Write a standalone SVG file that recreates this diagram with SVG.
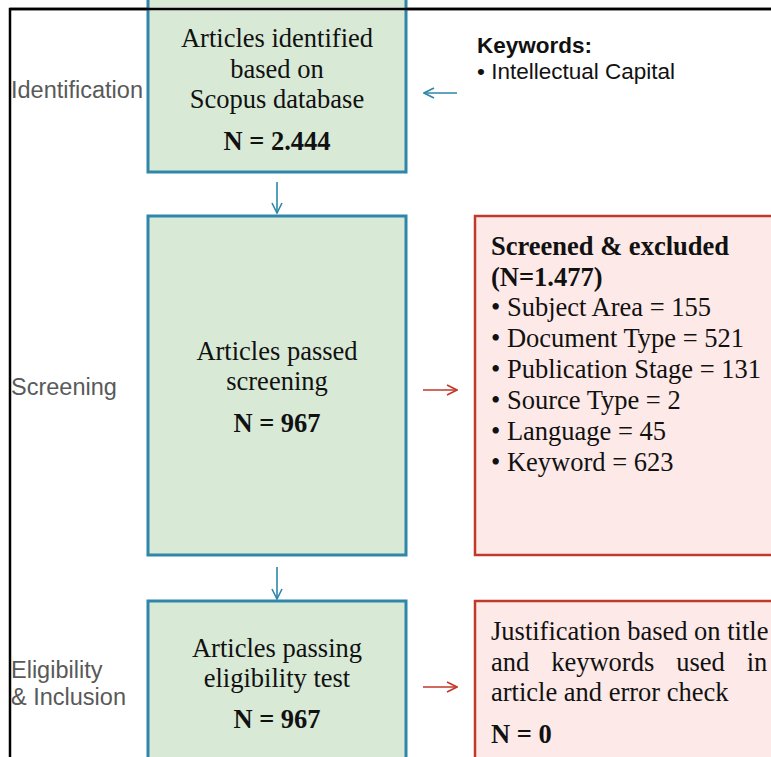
<svg xmlns="http://www.w3.org/2000/svg" width="771" height="757" viewBox="0 0 771 757">
<style>
.green{fill:#d8e9d6;stroke:#2e86ab;stroke-width:3}
.red{fill:#fde9e7;stroke:#c0392b;stroke-width:2.5}
.t{font-family:"Liberation Serif","Times New Roman",serif;font-size:26.5px;fill:#111}
.b{font-weight:bold}
.lbl{font-family:"Liberation Sans",Arial,sans-serif;font-size:23.5px;fill:#595959}
.kw{font-family:"Liberation Sans",Arial,sans-serif;font-size:22.5px;fill:#111}
.ab{fill:none;stroke:#2e86ab;stroke-width:1.6}
.ar{fill:none;stroke:#c0392b;stroke-width:1.6}
</style>
<defs>
<marker id="hb" viewBox="0 0 12 12" refX="11" refY="6" markerWidth="12" markerHeight="12" markerUnits="userSpaceOnUse" orient="auto"><path d="M1,1 L11,6 L1,11" fill="none" stroke="#2e86ab" stroke-width="1.6"/></marker>
<marker id="hr" viewBox="0 0 12 12" refX="11" refY="6" markerWidth="12" markerHeight="12" markerUnits="userSpaceOnUse" orient="auto"><path d="M1,1 L11,6 L1,11" fill="none" stroke="#c0392b" stroke-width="1.6"/></marker>
</defs>
<rect width="771" height="757" fill="#fff"/>
<g id="frame"><path d="M10,757 V9 H771" fill="none" stroke="#000" stroke-width="2.5"/></g>
<g id="labels">
<text class="lbl" x="11" y="98">Identification</text>
<text class="lbl" x="11" y="395">Screening</text>
<text class="lbl" x="11" y="678">Eligibility</text>
<text class="lbl" x="11" y="705">&amp; Inclusion</text>
</g>
<g id="identified">
<rect class="green" x="148" y="-5" width="258" height="177"/>
<path d="M10,9 H771" stroke="#000" stroke-width="2.5"/>
<text class="t" x="277" y="47" text-anchor="middle">Articles identified</text>
<text class="t" x="277" y="78" text-anchor="middle">based on</text>
<text class="t" x="277" y="108" text-anchor="middle">Scopus database</text>
<text class="t b" x="277" y="150" text-anchor="middle">N = 2.444</text>
</g>
<g id="keywords">
<text class="kw b" x="477" y="53">Keywords:</text>
<text class="kw" x="477" y="79">• Intellectual Capital</text>
</g>
<g id="screening">
<rect class="green" x="148" y="216" width="258" height="339"/>
<text class="t" x="277" y="360" text-anchor="middle">Articles passed</text>
<text class="t" x="277" y="390" text-anchor="middle">screening</text>
<text class="t b" x="277" y="432" text-anchor="middle">N = 967</text>
</g>
<g id="excluded">
<rect class="red" x="475" y="216" width="320" height="339"/>
<text class="t b" x="491" y="255">Screened &amp; excluded</text>
<text class="t b" x="491" y="286">(N=1.477)</text>
<text class="t" x="491" y="316">• Subject Area = 155</text>
<text class="t" x="491" y="347">• Document Type = 521</text>
<text class="t" x="491" y="378">• Publication Stage = 131</text>
<text class="t" x="491" y="409">• Source Type = 2</text>
<text class="t" x="491" y="440">• Language = 45</text>
<text class="t" x="491" y="471">• Keyword = 623</text>
</g>
<g id="eligibility">
<rect class="green" x="148" y="601" width="258" height="180"/>
<text class="t" x="277" y="657" text-anchor="middle">Articles passing</text>
<text class="t" x="277" y="687" text-anchor="middle">eligibility test</text>
<text class="t b" x="277" y="728" text-anchor="middle">N = 967</text>
</g>
<g id="justification">
<rect class="red" x="475" y="601" width="320" height="180"/>
<text class="t" x="491" y="640">Justification based on title</text>
<text class="t" x="491" y="671" word-spacing="15.3">and keywords used in</text>
<text class="t" x="491" y="701">article and error check</text>
<text class="t b" x="491" y="743">N = 0</text>
</g>
<g id="connectors">
<path class="ab" d="M457,93 H424" marker-end="url(#hb)"/>
<path class="ab" d="M277,182 V213" marker-end="url(#hb)"/>
<path class="ab" d="M277,567 V599" marker-end="url(#hb)"/>
<path class="ar" d="M423,390 H457" marker-end="url(#hr)"/>
<path class="ar" d="M423,687 H457" marker-end="url(#hr)"/>
</g>
</svg>
